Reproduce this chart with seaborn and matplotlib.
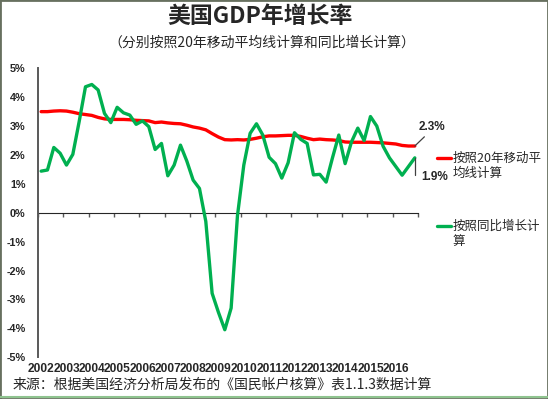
import numpy as np
import pandas as pd
import matplotlib
matplotlib.use('Agg')
import matplotlib.pyplot as plt
from matplotlib.lines import Line2D
from matplotlib.patches import Rectangle
import seaborn as sns

# quarterly, 2002Q1 .. 2016Q4
years = [str(y) for y in range(2002, 2017)]
yoy_growth = [1.44, 1.48, 2.26, 2.06, 1.65, 2.02, 3.15, 4.36, 4.44, 4.25,
              3.44, 3.12, 3.65, 3.46, 3.38, 3.06, 3.18, 2.98, 2.19, 2.40,
              1.28, 1.65, 2.34, 1.79, 1.13, 0.84, -0.30, -2.79, -3.45, -4.05,
              -3.30, -0.10, 1.65, 2.75, 3.08, 2.69, 1.92, 1.70, 1.20, 1.73,
              2.77, 2.54, 2.40, 1.31, 1.33, 1.06, 1.90, 2.69, 1.70, 2.45,
              2.93, 2.50, 3.33, 3.00, 2.30, 1.90, 1.60, 1.30, 1.60, 1.90]
ma20 = [3.50, 3.50, 3.52, 3.53, 3.52, 3.48, 3.43, 3.40, 3.37, 3.30,
        3.25, 3.23, 3.23, 3.23, 3.22, 3.20, 3.19, 3.18, 3.12, 3.14,
        3.11, 3.09, 3.08, 3.03, 2.97, 2.93, 2.87, 2.74, 2.62, 2.53,
        2.52, 2.53, 2.52, 2.54, 2.58, 2.63, 2.66, 2.66, 2.67, 2.68,
        2.68, 2.64, 2.58, 2.53, 2.55, 2.53, 2.52, 2.50, 2.45, 2.44,
        2.44, 2.44, 2.44, 2.43, 2.42, 2.40, 2.38, 2.33, 2.31, 2.31]
label_ma = ['按照20年移动平', '均线计算']
label_yoy = ['按照同比增长计', '算']

RED = '#FF0000'
GREEN = '#00B050'
GRAY = '#595959'

sns.set_style('white')
plt.rcParams['font.family'] = ['Noto Sans CJK SC', 'DejaVu Sans']

df = pd.DataFrame({'q': np.arange(len(yoy_growth)), 'yoy': yoy_growth, 'ma': ma20})

fig = plt.figure(figsize=(5.48, 3.99), dpi=100)
ax = fig.add_axes([0.0693, 0.1048, 0.6934, 0.724])

sns.lineplot(data=df, x='q', y='ma', color=RED, lw=2.4, ax=ax)
sns.lineplot(data=df, x='q', y='yoy', color=GREEN, lw=2.4, ax=ax)

ax.set_xlim(-0.5, len(df) - 0.5)
ax.set_ylim(-5, 5)
ax.set_xlabel('')
ax.set_ylabel('')

for s in ['top', 'right', 'bottom']:
    ax.spines[s].set_visible(False)
ax.spines['left'].set_color(GRAY)
ax.spines['left'].set_linewidth(1.4)

ax.set_yticks(range(-5, 6))
ax.set_yticklabels([f'{v}%' for v in range(-5, 6)], fontfamily='Liberation Sans',
                   fontweight='bold', fontsize=7.8)
ax.tick_params(axis='y', direction='out', length=2.5, width=1, color=GRAY, pad=6.5)

ax.set_xticks(range(0, len(df), 4))
ax.set_xticklabels(years, fontfamily='Liberation Sans', fontweight='bold', fontsize=8.6)
ax.tick_params(axis='x', length=0, pad=4.5)

# axis line at zero with tick marks between years
sec = ax.secondary_xaxis(0.5)
sec.set_xticks(np.arange(-0.5, len(df), 4), labels=[])
sec.tick_params(direction='in', length=3, width=1, color=GRAY)
sec.spines['bottom'].set_color(GRAY)
sec.spines['bottom'].set_linewidth(1.6)

# end labels
last = len(df) - 1
ax.annotate(f'{ma20[-1]:.1f}%', xy=(last, ma20[-1]), xytext=(12, 14),
            textcoords='offset points', ha='center', va='center',
            fontfamily='Liberation Sans', fontweight='bold', fontsize=8.5,
            arrowprops=dict(arrowstyle='-', color='#404040', lw=0.9,
                            relpos=(0.4, 0), shrinkA=1, shrinkB=0))
ax.annotate(f'{yoy_growth[-1]:.1f}%', xy=(last, yoy_growth[-1]), xytext=(5, -14),
            textcoords='offset points', ha='left', va='center',
            fontfamily='Liberation Sans', fontweight='bold', fontsize=8.5,
            arrowprops=dict(arrowstyle='-', color='#404040', lw=0.9,
                            connectionstyle='angle,angleA=0,angleB=90,rad=0',
                            relpos=(0, 0.5), shrinkA=3, shrinkB=0))

# legend
W, H = 548.0, 399.0
for color, lines, y0 in [(RED, label_ma, 158), (GREEN, label_yoy, 226)]:
    fig.add_artist(Line2D([437 / W, 451 / W], [1 - y0 / H] * 2, color=color,
                          lw=2.4, transform=fig.transFigure))
    for k, t in enumerate(lines):
        fig.text(453 / W, 1 - (y0 + 15.5 * k) / H, t, fontsize=9, va='center', ha='left')

fig.text(260 / W, 1 - 16 / H, '美国GDP年增长率', fontsize=16.5, ha='center', va='center',
         fontweight='bold')
fig.text(262 / W, 1 - 43 / H, '（分别按照20年移动平均线计算和同比增长计算）', fontsize=10,
         ha='center', va='center')
fig.text(13 / W, 1 - 385 / H, '来源：根据美国经济分析局发布的《国民帐户核算》表1.1.3数据计算',
         fontsize=10, ha='left', va='center')

# frame
fig.add_artist(Rectangle((0, 0), 1, 1, transform=fig.transFigure, fill=False,
                         edgecolor='#67705f', lw=2))
fig.add_artist(Line2D([0, 1], [2.5 / H, 2.5 / H], color='#8fc48f', lw=1.5,
                      transform=fig.transFigure))

fig.savefig('out.png', dpi=100)
